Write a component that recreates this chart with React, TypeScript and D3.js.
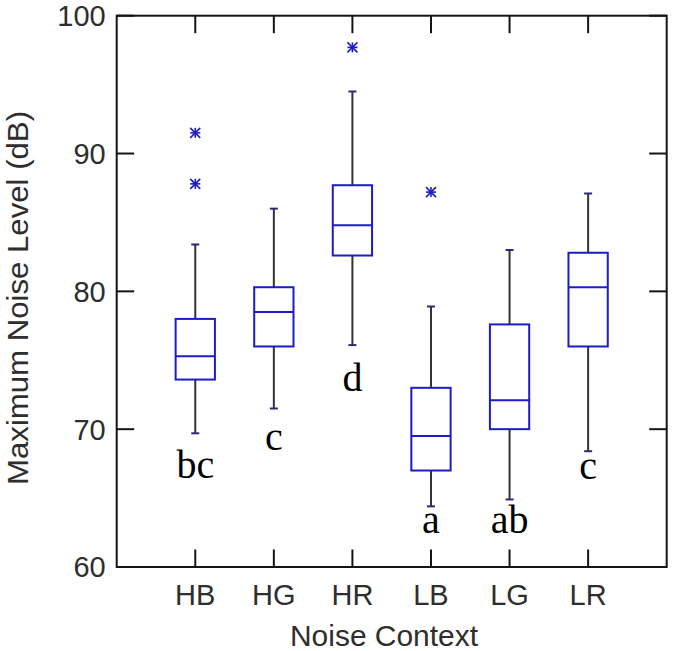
import React from "react";
import * as d3 from "d3";

const categories = ["HB", "HG", "HR", "LB", "LG", "LR"];
const whiskerLow = [69.7, 71.5, 76.1, 64.4, 64.9, 68.4];
const q1 = [73.6, 76.0, 82.6, 67.0, 70.0, 76.0];
const medians = [75.3, 78.5, 84.8, 69.5, 72.1, 80.3];
const q3 = [78.0, 80.3, 87.7, 73.0, 77.6, 82.8];
const whiskerHigh = [83.4, 86.0, 94.5, 78.9, 83.0, 87.1];
const outliers = [[87.8, 91.5], [], [97.7], [87.2], [], []];
const groupLetters = ["bc", "c", "d", "a", "ab", "c"];
const letterValues = [66.45, 68.5, 72.8, 62.5, 62.5, 66.4];
const yTicks = [60, 70, 80, 90, 100];

const W = 675;
const H = 651;
const left = 116.7;
const right = 666.7;
const top = 15.7;
const bottom = 567;

export default function App() {
  const x = d3.scaleLinear().domain([0, 7]).range([left, right]);
  const y = d3.scaleLinear().domain([60, 100]).range([bottom, top]);
  const bw = x(0.25) - x(0);
  const tickLen = 17.5;
  const blue = "#1c1cc8";
  const axisColor = "#151515";
  const textColor = "#2e2e2e";
  const sans = "Arial, 'Liberation Sans', sans-serif";
  const serif = "'Times New Roman', 'Liberation Serif', serif";

  return (
    <svg
      width={W}
      height={H}
      style={{ position: "absolute", left: 0, top: 0, background: "#fff" }}
    >
      <rect
        x={left}
        y={top}
        width={right - left}
        height={bottom - top}
        fill="none"
        stroke={axisColor}
        strokeWidth={2}
      />
      {yTicks.map((t) => (
        <g key={"yt" + t}>
          <line x1={left} x2={left + tickLen} y1={y(t)} y2={y(t)} stroke={axisColor} strokeWidth={2} />
          <line x1={right} x2={right - tickLen} y1={y(t)} y2={y(t)} stroke={axisColor} strokeWidth={2} />
          <text
            x={left - 11}
            y={y(t)}
            dy="0.36em"
            textAnchor="end"
            fontFamily={sans}
            fontSize={29}
            fill={textColor}
          >
            {t}
          </text>
        </g>
      ))}
      {categories.map((c, i) => (
        <g key={"xt" + c}>
          <line x1={x(i + 1)} x2={x(i + 1)} y1={bottom} y2={bottom - tickLen} stroke={axisColor} strokeWidth={2} />
          <line x1={x(i + 1)} x2={x(i + 1)} y1={top} y2={top + tickLen} stroke={axisColor} strokeWidth={2} />
          <text
            x={x(i + 1)}
            y={605}
            textAnchor="middle"
            fontFamily={sans}
            fontSize={29}
            fill={textColor}
          >
            {c}
          </text>
        </g>
      ))}
      <text
        x={384}
        y={646}
        textAnchor="middle"
        fontFamily={sans}
        fontSize={29}
        fill={textColor}
        textLength={188}
        lengthAdjust="spacingAndGlyphs"
      >
        Noise Context
      </text>
      <text
        transform={`translate(28,298) rotate(-90)`}
        textAnchor="middle"
        fontFamily={sans}
        fontSize={29}
        fill={textColor}
        textLength={374}
        lengthAdjust="spacingAndGlyphs"
      >
        Maximum Noise Level (dB)
      </text>
      {categories.map((c, i) => {
        const cx = x(i + 1);
        return (
          <g key={"box" + c}>
            <line x1={cx} x2={cx} y1={y(q3[i])} y2={y(whiskerHigh[i])} stroke="#333" strokeWidth={2} />
            <line x1={cx} x2={cx} y1={y(q1[i])} y2={y(whiskerLow[i])} stroke="#333" strokeWidth={2} />
            <line x1={cx - 4} x2={cx + 4} y1={y(whiskerHigh[i])} y2={y(whiskerHigh[i])} stroke="#2a2a7a" strokeWidth={2} />
            <line x1={cx - 4} x2={cx + 4} y1={y(whiskerLow[i])} y2={y(whiskerLow[i])} stroke="#2a2a7a" strokeWidth={2} />
            <rect
              x={cx - bw}
              y={y(q3[i])}
              width={2 * bw}
              height={y(q1[i]) - y(q3[i])}
              fill="none"
              stroke={blue}
              strokeWidth={2}
            />
            <line x1={cx - bw} x2={cx + bw} y1={y(medians[i])} y2={y(medians[i])} stroke={blue} strokeWidth={2} />
            {outliers[i].map((o, j) => {
              const oy = y(o);
              const s = 5;
              return (
                <g key={"o" + j} stroke={blue} strokeWidth={1.6}>
                  <line x1={cx - s} x2={cx + s} y1={oy - s} y2={oy + s} />
                  <line x1={cx - s} x2={cx + s} y1={oy + s} y2={oy - s} />
                  <line x1={cx} x2={cx} y1={oy - s} y2={oy + s} />
                  <line x1={cx - s} x2={cx + s} y1={oy} y2={oy} />
                </g>
              );
            })}
            <text
              x={cx}
              y={y(letterValues[i])}
              textAnchor="middle"
              fontFamily={serif}
              fontSize={40}
              fill="#000"
            >
              {groupLetters[i]}
            </text>
          </g>
        );
      })}
    </svg>
  );
}
